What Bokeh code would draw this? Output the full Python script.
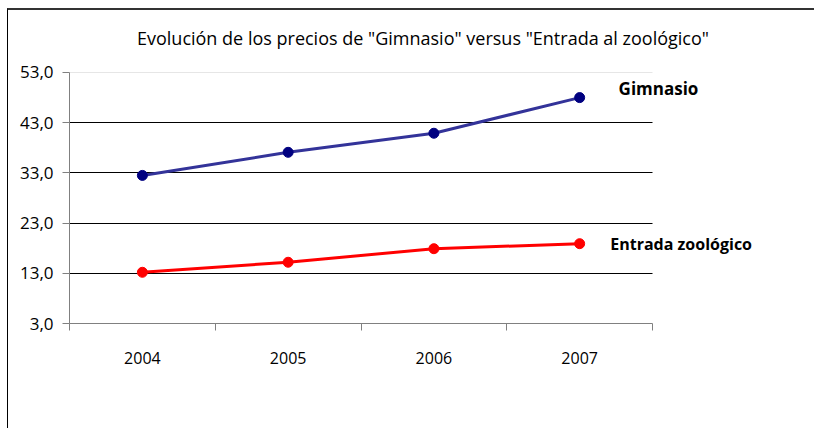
from bokeh.plotting import figure
from bokeh.models import Range1d, FixedTicker, Label, Grid
from bokeh.embed import file_html
from bokeh.resources import INLINE

years = ["2004", "2005", "2006", "2007"]
gimnasio = [32.5, 37.1, 40.9, 48.0]
entrada = [13.2, 15.2, 17.9, 18.9]
y_ticks = [3, 13, 23, 33, 43, 53]
y_tick_labels = ["3,0", "13,0", "23,0", "33,0", "43,0", "53,0"]
title_text = 'Evolución de los precios de "Gimnasio" versus "Entrada al zoológico"'
series_names = ["Gimnasio", "Entrada zoológico"]

FONT = "Open Sans"
xs = list(range(len(years)))
boundaries = [i - 0.5 for i in range(len(years) + 1)]
x_lo, x_hi = -0.5, len(years) - 0.5

p = figure(width=807, height=420,
           x_range=Range1d(x_lo, 4.618),
           y_range=Range1d(y_ticks[0], 65.35),
           output_backend="svg", toolbar_location=None,
           min_border_left=61, min_border_right=0,
           min_border_top=0, min_border_bottom=107)
p.outline_line_color = None
p.background_fill_color = "white"
p.border_fill_color = "white"
p.styles = {"border-top": "2px solid #333333", "border-left": "1px solid #000000",
            "margin-left": "7px", "margin-top": "8px"}

# x axis
xa = p.xaxis[0]
xa.bounds = (x_lo, x_hi)
xa.ticker = FixedTicker(ticks=xs, minor_ticks=boundaries)
xa.major_label_overrides = {i: y for i, y in zip(xs, years)}
xa.major_tick_out = 0
xa.major_tick_in = 0
xa.minor_tick_out = 7
xa.minor_tick_in = 0
xa.minor_tick_line_color = "#808080"
xa.axis_line_color = "#808080"
xa.major_label_standoff = 21
xa.major_label_text_font = FONT
xa.major_label_text_font_size = "16px"
xa.major_label_text_color = "#000000"

# y axis
ya = p.yaxis[0]
ya.bounds = (y_ticks[0], y_ticks[-1])
ya.ticker = FixedTicker(ticks=y_ticks)
ya.major_label_overrides = {t: l for t, l in zip(y_ticks, y_tick_labels)}
ya.major_tick_out = 7
ya.major_tick_in = 0
ya.minor_tick_out = 0
ya.minor_tick_in = 0
ya.major_tick_line_color = "#808080"
ya.axis_line_color = "#808080"
ya.major_label_standoff = 9
ya.major_label_text_font = FONT
ya.major_label_text_font_size = "17px"
ya.major_label_text_color = "#000000"

p.xgrid.visible = False
p.ygrid.ticker = FixedTicker(ticks=y_ticks[1:-1])
p.ygrid.grid_line_color = "#000000"
p.ygrid.grid_line_width = 1
p.ygrid.cross_bounds = (x_lo, x_hi)
top_grid = Grid(dimension=1, ticker=FixedTicker(ticks=[y_ticks[-1]]),
                grid_line_color="#e6e6e6", grid_line_width=1, cross_bounds=(x_lo, x_hi))
p.add_layout(top_grid)

# series
p.line(xs, gimnasio, line_color="#333399", line_width=3)
p.scatter(xs, gimnasio, size=10, fill_color="#000080", line_color="#000080")
p.line(xs, entrada, line_color="#FF0000", line_width=3)
p.scatter(xs, entrada, size=10, fill_color="#FF0000", line_color="#FF0000")

# series labels
p.add_layout(Label(x=3.267, y=49.9, text=series_names[0], text_font=FONT,
                   text_font_size="17px", text_font_style="bold",
                   text_baseline="middle", text_align="left", text_color="#000000"))
p.add_layout(Label(x=3.21, y=entrada[-1], text=series_names[1], text_font=FONT,
                   text_font_size="16px", text_font_style="bold",
                   text_baseline="middle", text_align="left", text_color="#000000"))

# title
p.add_layout(Label(x=1.925, y=59.9, text=title_text, text_font=FONT,
                   text_font_size="18px", text_baseline="middle", text_align="center",
                   text_color="#000000"))

open("out.html", "w").write(file_html(p, INLINE))
